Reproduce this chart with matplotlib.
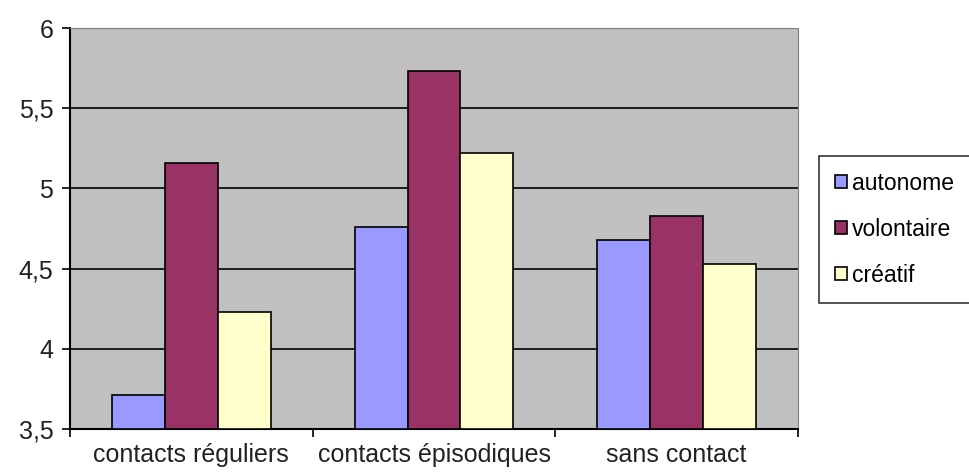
import numpy as np
import matplotlib.pyplot as plt

categories = ["contacts réguliers", "contacts épisodiques", "sans contact"]
series = ["autonome", "volontaire", "créatif"]
autonome = [3.71, 4.76, 4.68]
volontaire = [5.16, 5.73, 4.83]
creatif = [4.23, 5.22, 4.53]
colors = ["#9999FF", "#993366", "#FFFFCC"]

plt.rcParams["font.family"] = ["Liberation Sans", "DejaVu Sans"]

fig = plt.figure(figsize=(9.69, 4.74), dpi=100)
ax = fig.add_axes([70 / 969, 1 - 429 / 474, 728 / 969, 401 / 474])
ax.set_facecolor("#C0C0C0")

x = np.arange(len(categories))
w = 0.218
for i, (name, vals) in enumerate(zip(series, [autonome, volontaire, creatif])):
    ax.bar(x + (i - 1) * w, np.array(vals) - 3.5, w, bottom=3.5, color=colors[i],
           edgecolor="black", linewidth=1.2, label=name, zorder=3)

ax.set_xlim(-0.5, 2.5)
ax.set_ylim(3.5, 6)
ax.set_yticks([3.5, 4, 4.5, 5, 5.5, 6])
ax.set_yticklabels(["3,5", "4", "4,5", "5", "5,5", "6"], fontsize=18, color="#222222")
ax.yaxis.grid(True, color="black", linewidth=1.2, zorder=1)
ax.set_axisbelow(True)

ax.set_xticks(x)
ax.set_xticklabels(categories, fontsize=18, color="#222222")
ax.set_xticks([-0.5, 0.5, 1.5, 2.5], minor=True)
ax.tick_params(axis="x", which="major", length=0, pad=10)
ax.tick_params(axis="x", which="minor", length=6, width=1.2, direction="out")
ax.tick_params(axis="y", length=6, width=1.2, direction="out", pad=6)

for s in ["top", "right"]:
    ax.spines[s].set_color("#808080")
for s in ["left", "bottom"]:
    ax.spines[s].set_color("black")
    ax.spines[s].set_linewidth(1.5)

leg = fig.legend(loc="upper left", bbox_to_anchor=(819 / 969, 1 - 156 / 474),
                 fontsize=16.5, frameon=True, fancybox=False, edgecolor="black",
                 handlelength=0.5, handleheight=0.5, handletextpad=0.25,
                 labelspacing=1.0, borderpad=0.7, borderaxespad=0)
leg.get_frame().set_linewidth(1.2)

fig.savefig("out.png", dpi=100)
